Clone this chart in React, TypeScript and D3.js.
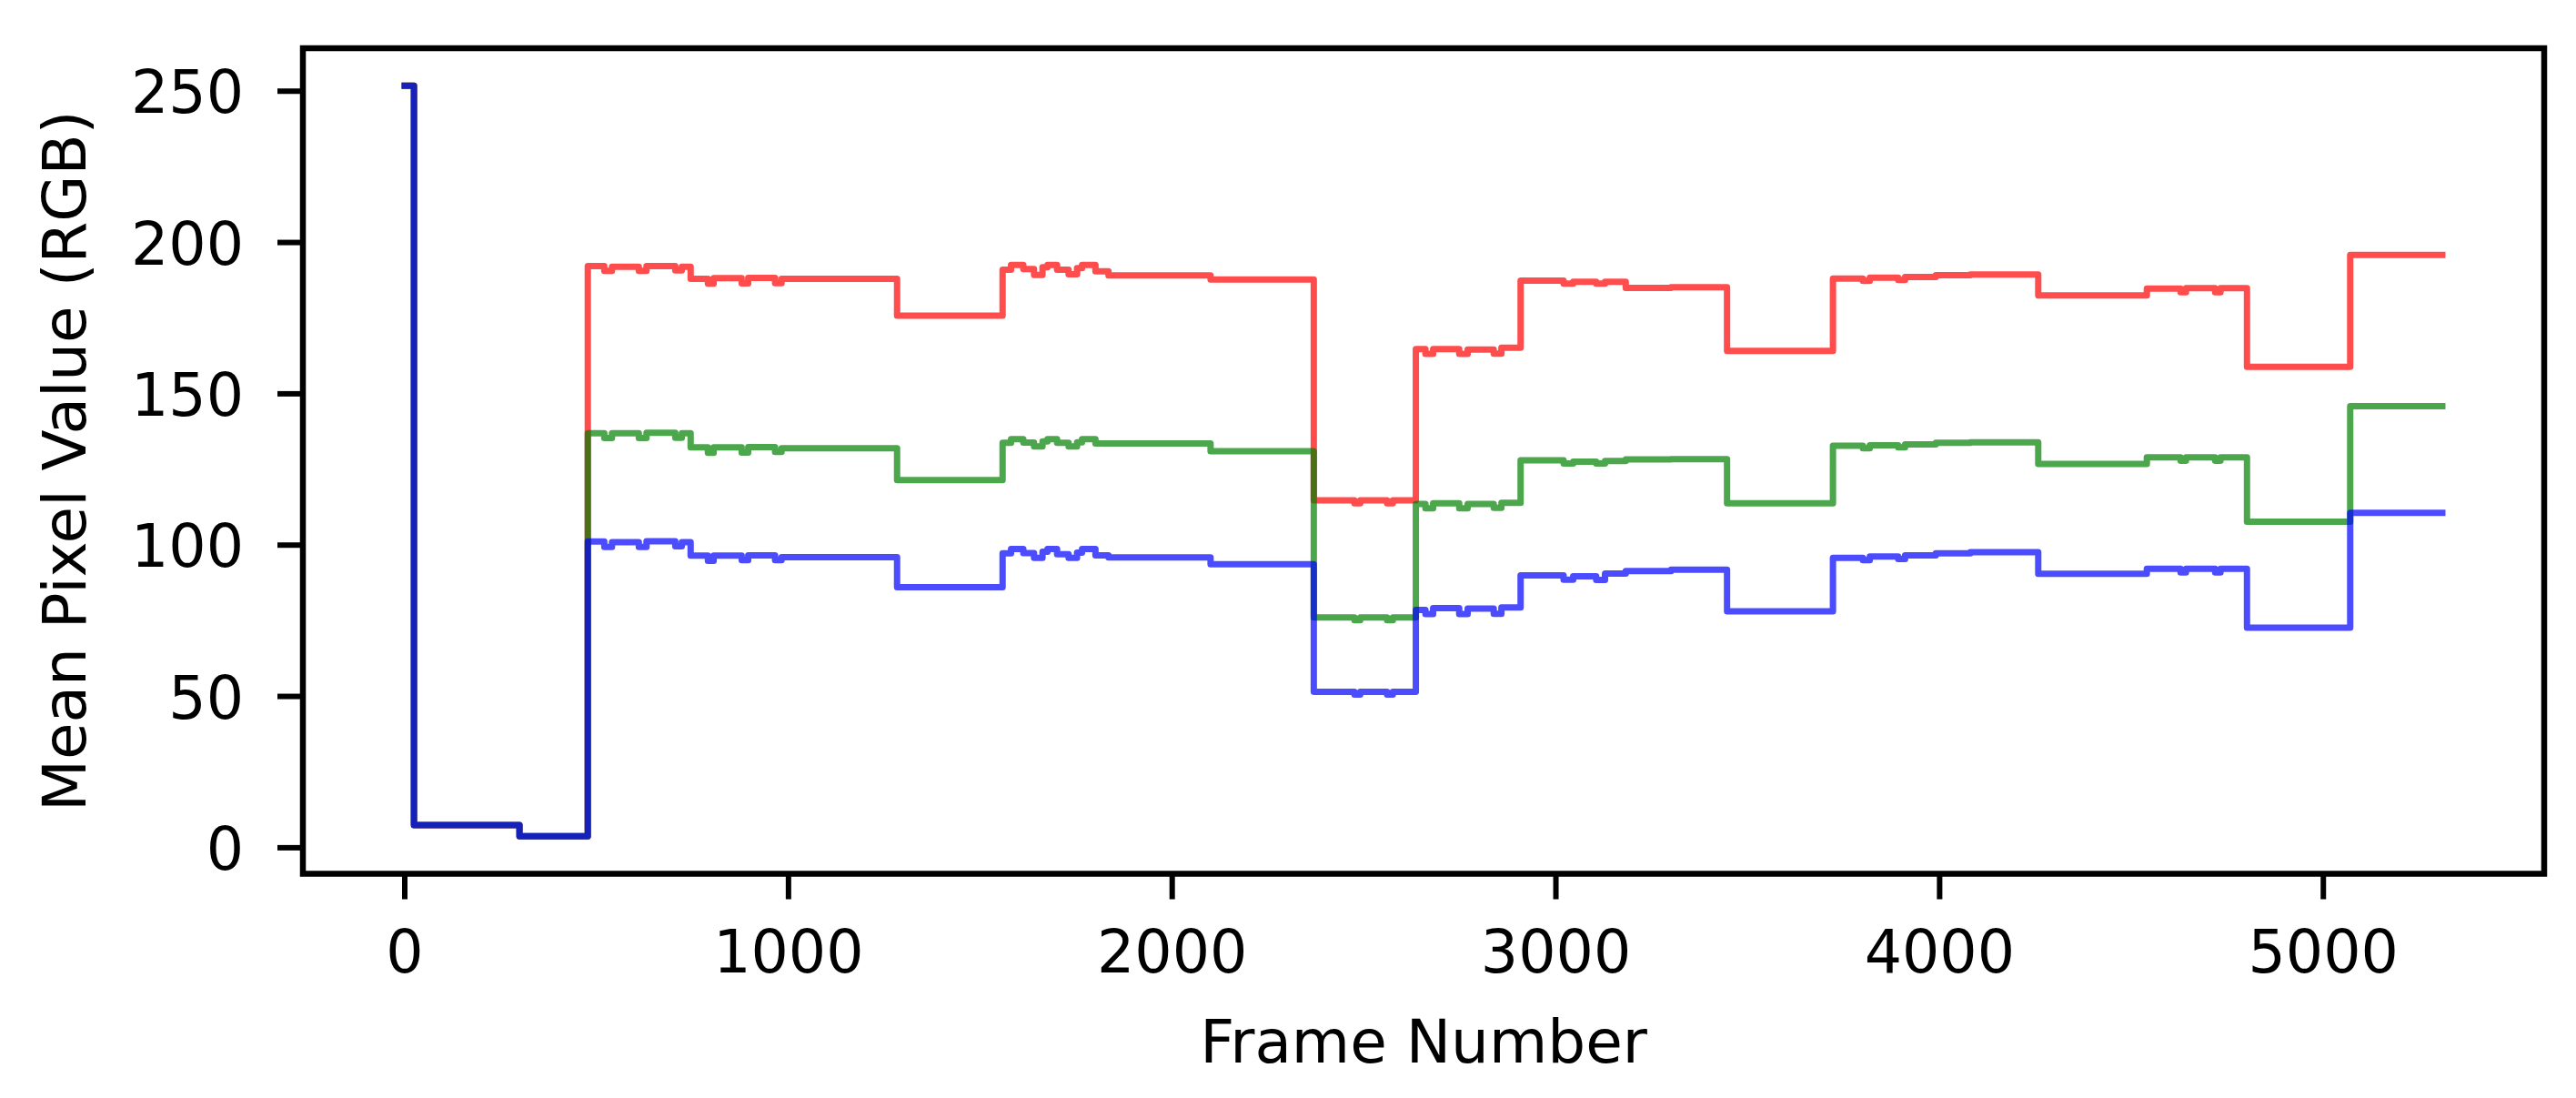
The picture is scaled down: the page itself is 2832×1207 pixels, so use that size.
import React from 'react';
import * as d3 from 'd3';

// Breakpoints (frame where a level starts) and channel means from that frame on
const frames = [0, 24, 299, 477, 520, 540, 610, 630, 705, 722, 745, 790, 805, 878, 895, 965, 982, 1283,
  1558, 1580, 1612, 1640, 1662, 1675, 1700, 1730, 1752, 1765, 1800, 1834, 2100,
  2369, 2475, 2490, 2560, 2575, 2635, 2660, 2680, 2748, 2770, 2838, 2858,
  2908, 3020, 3045, 3105, 3128, 3182, 3300, 3446,
  3722, 3800, 3818, 3892, 3910, 3990, 4080, 4257,
  4540, 4628, 4642, 4718, 4732, 4801, 5070, 5310];

const red = [251.8, 7.5, 3.8, 192.2, 190.6, 192.0, 190.6, 192.2, 190.8, 192.0, 188.0, 186.4, 188.2, 186.5, 188.3, 186.6, 188.0, 175.8,
  191.0, 192.6, 191.2, 189.3, 191.8, 192.6, 191.0, 189.5, 191.5, 192.6, 190.5, 189.1, 187.8,
  114.8, 113.8, 114.8, 113.8, 114.8, 164.8, 163.2, 164.8, 163.2, 164.6, 163.3, 165.2,
  187.4, 186.4, 187.0, 186.4, 187.0, 185.0, 185.2, 164.2,
  188.1, 187.3, 188.4, 187.6, 188.6, 189.2, 189.4, 182.5,
  184.8, 183.6, 184.9, 183.6, 184.9, 158.9, 195.9, 195.9];

const green = [251.8, 7.5, 3.8, 137.0, 135.4, 137.0, 135.4, 137.1, 135.5, 137.0, 132.3, 130.5, 132.3, 130.6, 132.4, 130.8, 132.0, 121.5,
  133.8, 135.0, 133.9, 132.6, 134.3, 135.0, 133.8, 132.6, 134.0, 135.0, 133.6, 133.6, 131.0,
  76.1, 75.2, 76.1, 75.2, 76.1, 113.6, 112.2, 113.8, 112.2, 113.6, 112.3, 114.0,
  128.0, 127.0, 127.6, 127.0, 127.8, 128.3, 128.4, 113.8,
  132.8, 132.0, 133.0, 132.3, 133.3, 133.8, 134.0, 126.8,
  129.0, 127.9, 129.0, 127.9, 129.0, 107.7, 145.9, 145.9];

const blue = [251.8, 7.5, 3.8, 101.2, 99.4, 101.0, 99.4, 101.3, 99.6, 101.0, 96.5, 94.8, 96.5, 95.0, 96.6, 95.0, 96.0, 86.1,
  97.3, 98.7, 97.4, 95.8, 97.8, 98.7, 97.0, 95.8, 97.5, 98.7, 96.6, 95.9, 93.7,
  51.5, 50.6, 51.5, 50.6, 51.5, 78.6, 77.2, 79.2, 77.2, 79.0, 77.3, 79.4,
  90.0, 88.6, 89.7, 88.5, 90.6, 91.4, 91.9, 78.1,
  95.8, 95.0, 96.2, 95.4, 96.6, 97.3, 97.7, 90.5,
  92.2, 91.0, 92.2, 91.0, 92.2, 72.7, 110.7, 110.7];

const xTicks = [0, 1000, 2000, 3000, 4000, 5000];
const yTicks = [0, 50, 100, 150, 200, 250];

const seriesDefs = [
  { name: 'R', values: red, color: '#ff0000' },
  { name: 'G', values: green, color: '#008000' },
  { name: 'B', values: blue, color: '#0000ff' },
];

export default function App() {
  const W = 2832, H = 1207;
  const left = 333, right = 2797, top = 53, bottom = 960.5;
  const font = 'DejaVu Sans';
  const fs = 65;
  const fsLabel = 66;

  const xExt = d3.extent(frames) as [number, number];
  const xPad = (xExt[1] - xExt[0]) * 0.05;
  const x = d3.scaleLinear().domain([xExt[0] - xPad, xExt[1] + xPad]).range([left, right]);

  const all = [...red, ...green, ...blue];
  const yMin = d3.min(all) as number, yMax = d3.max(all) as number;
  const yPad = (yMax - yMin) * 0.05;
  const y = d3.scaleLinear().domain([yMin - yPad, yMax + yPad]).range([bottom, top]);

  const tickLen = 28;
  const stroke = 6.5;

  return (
    <svg width={W} height={H} viewBox={`0 0 ${W} ${H}`}
      style={{ position: 'absolute', left: 0, top: 0, background: '#fff' }}>
      <rect x={0} y={0} width={W} height={H} fill="#fff" />
      {seriesDefs.map((s) => {
        const line = d3.line<number>()
          .x((_, i) => x(frames[i]))
          .y((d) => y(d))
          .curve(d3.curveStepAfter);
        return (
          <path key={s.name} d={line(s.values) || ''} fill="none" stroke={s.color}
            strokeOpacity={0.7} strokeWidth={7} strokeLinejoin="round" strokeLinecap="square" />
        );
      })}
      <rect x={left} y={top} width={right - left} height={bottom - top} fill="none"
        stroke="#000" strokeWidth={stroke} />
      {xTicks.map((t) => (
        <g key={'x' + t}>
          <line x1={x(t)} x2={x(t)} y1={bottom} y2={bottom + tickLen} stroke="#000" strokeWidth={6} />
          <text x={x(t)} y={1069} textAnchor="middle" fontFamily={font} fontSize={fs} fill="#000">{t}</text>
        </g>
      ))}
      {yTicks.map((t) => (
        <g key={'y' + t}>
          <line x1={left - tickLen} x2={left} y1={y(t)} y2={y(t)} stroke="#000" strokeWidth={6} />
          <text x={268} y={y(t) + 24} textAnchor="end" fontFamily={font} fontSize={fs} fill="#000">{t}</text>
        </g>
      ))}
      <text x={(left + right) / 2} y={1168} textAnchor="middle" fontFamily={font} fontSize={fsLabel} fill="#000">Frame Number</text>
      <text transform={`translate(94, ${(top + bottom) / 2}) rotate(-90)`} textAnchor="middle"
        fontFamily={font} fontSize={fsLabel} fill="#000">Mean Pixel Value (RGB)</text>
    </svg>
  );
}
